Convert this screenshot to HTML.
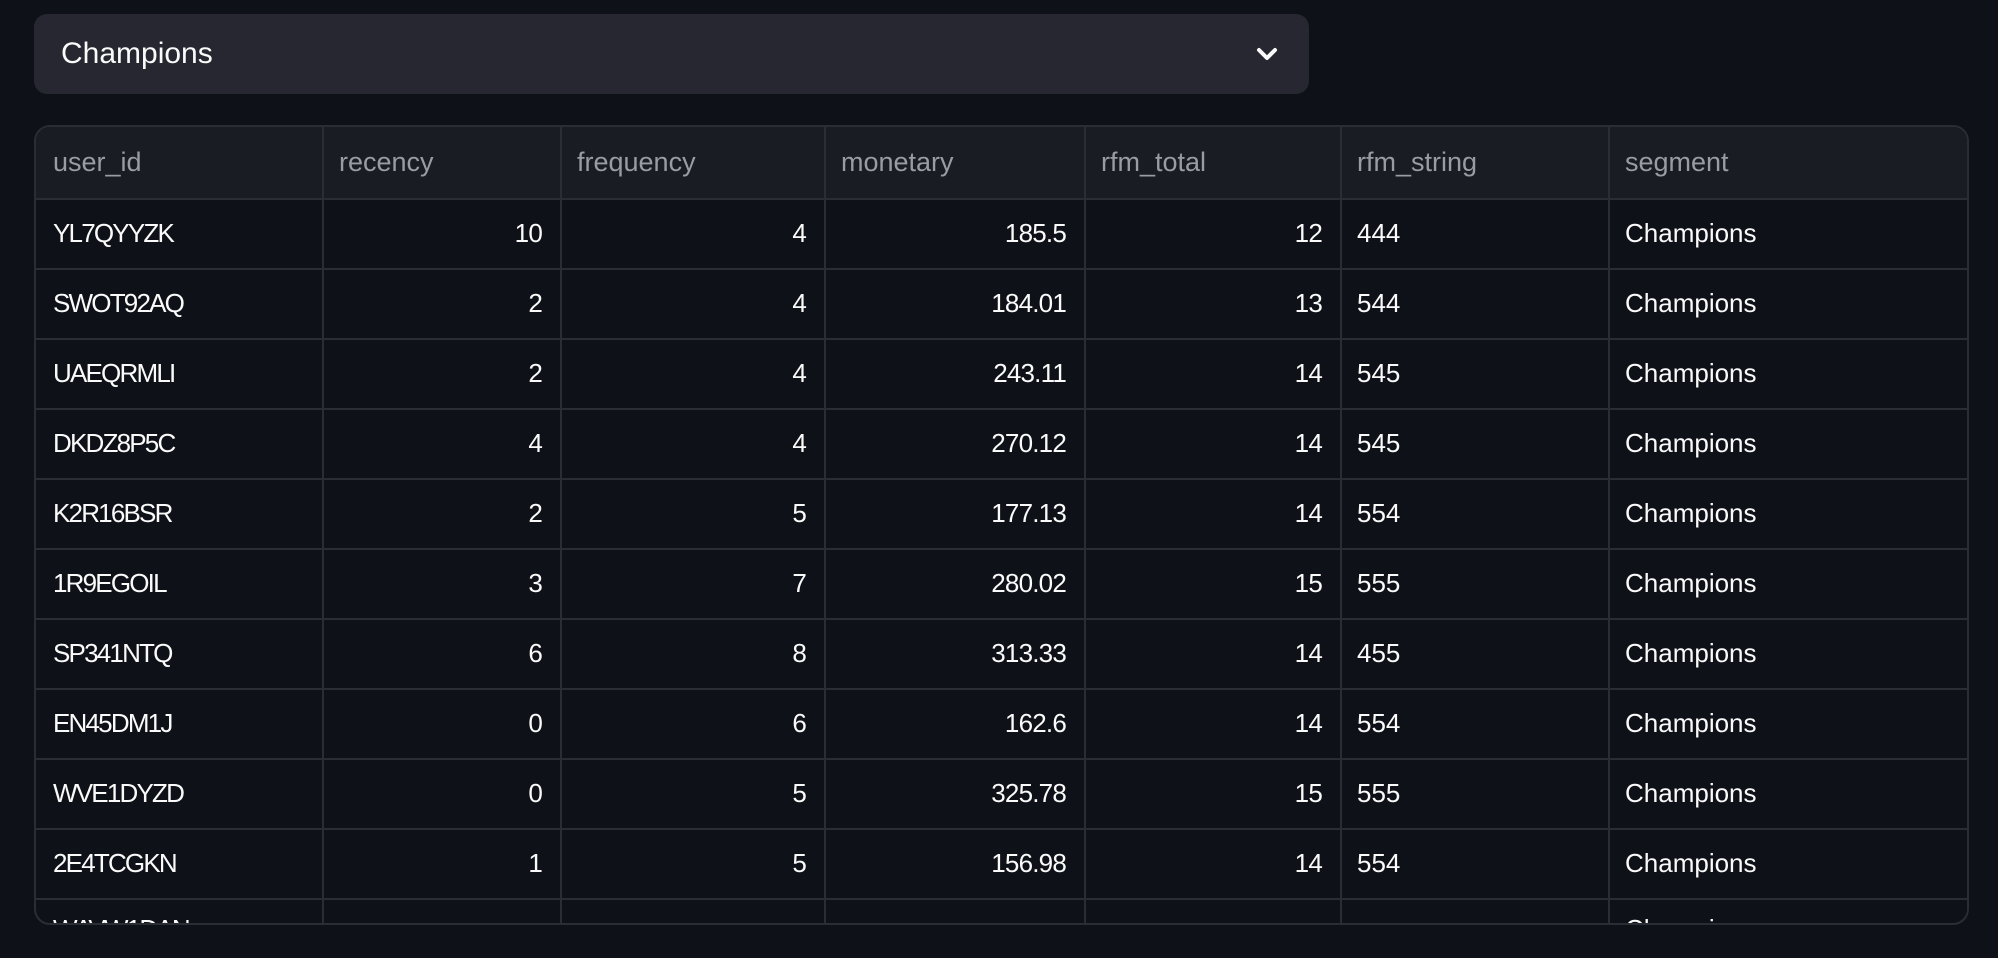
<!DOCTYPE html>
<html>
<head>
<meta charset="utf-8">
<style>
  html, body { margin:0; padding:0; }
  body {
    width:1998px; height:958px; overflow:hidden;
    background:#0e1117;
    font-family:"Liberation Sans", sans-serif;
    position:relative;
  }
  .select {
    position:absolute; left:34px; top:14px; width:1275px; height:80px;
    background:#262730; border-radius:13px;
  }
  .select .txt {
    position:absolute; left:27px; top:0; height:80px; line-height:80px;
    font-size:30px; color:#fafafa;
  }
  .select svg { position:absolute; left:0; top:0; }
  .table {
    position:absolute; left:34px; top:125px; width:1935px; height:800px;
    box-sizing:border-box; border:2px solid #2b2d35; border-radius:16px;
    overflow:hidden; background:#0e1117;
  }
  .hdr { position:absolute; left:0; top:0; width:1931px; height:71px; background:#1a1c23; }
  .hl { position:absolute; left:0; width:1931px; height:2px; background:#2b2d35; }
  .vl { position:absolute; top:0; width:2px; height:800px; background:#2b2d35; }
  .c {
    position:absolute; box-sizing:border-box; white-space:nowrap; overflow:hidden;
    font-size:26px; color:#fafafa; height:68px; line-height:67px;
  }
  .h { font-size:27px; color:#9a9ca4; height:71px; line-height:71px; top:0; }
  .r { text-align:right; padding-right:18px; letter-spacing:-0.8px; }
  .l { text-align:left; padding-left:15px; }
  .id { padding-left:17px; letter-spacing:-1.8px; }
  .h.id { letter-spacing:0; }
</style>
</head>
<body>
  <div class="select">
    <div class="txt">Champions</div>
    <svg width="1275" height="80" viewBox="0 0 1275 80">
      <polyline points="1225,36 1233,44 1241,36" fill="none" stroke="#fafafa" stroke-width="4" stroke-linecap="round" stroke-linejoin="round"/>
    </svg>
  </div>

  <div class="table">
    <div class="hdr"></div>
    <div class="hl" style="top:71px"></div>
    <div class="hl" style="top:141px"></div>
    <div class="hl" style="top:211px"></div>
    <div class="hl" style="top:281px"></div>
    <div class="hl" style="top:351px"></div>
    <div class="hl" style="top:421px"></div>
    <div class="hl" style="top:491px"></div>
    <div class="hl" style="top:561px"></div>
    <div class="hl" style="top:631px"></div>
    <div class="hl" style="top:701px"></div>
    <div class="hl" style="top:771px"></div>
    <div class="vl" style="left:286px"></div>
    <div class="vl" style="left:524px"></div>
    <div class="vl" style="left:788px"></div>
    <div class="vl" style="left:1048px"></div>
    <div class="vl" style="left:1304px"></div>
    <div class="vl" style="left:1572px"></div>

    <div class="c h id" style="left:0;width:286px">user_id</div>
    <div class="c h l" style="left:288px;width:236px">recency</div>
    <div class="c h l" style="left:526px;width:262px">frequency</div>
    <div class="c h l" style="left:790px;width:258px">monetary</div>
    <div class="c h l" style="left:1050px;width:254px">rfm_total</div>
    <div class="c h l" style="left:1306px;width:266px">rfm_string</div>
    <div class="c h l" style="left:1574px;width:357px">segment</div>

    <div class="c id" style="left:0;width:286px;top:73px">YL7QYYZK</div>
    <div class="c r" style="left:288px;width:236px;top:73px">10</div>
    <div class="c r" style="left:526px;width:262px;top:73px">4</div>
    <div class="c r" style="left:790px;width:258px;top:73px">185.5</div>
    <div class="c r" style="left:1050px;width:254px;top:73px">12</div>
    <div class="c l" style="left:1306px;width:266px;top:73px">444</div>
    <div class="c l" style="left:1574px;width:357px;top:73px">Champions</div>

    <div class="c id" style="left:0;width:286px;top:143px">SWOT92AQ</div>
    <div class="c r" style="left:288px;width:236px;top:143px">2</div>
    <div class="c r" style="left:526px;width:262px;top:143px">4</div>
    <div class="c r" style="left:790px;width:258px;top:143px">184.01</div>
    <div class="c r" style="left:1050px;width:254px;top:143px">13</div>
    <div class="c l" style="left:1306px;width:266px;top:143px">544</div>
    <div class="c l" style="left:1574px;width:357px;top:143px">Champions</div>

    <div class="c id" style="left:0;width:286px;top:213px">UAEQRMLI</div>
    <div class="c r" style="left:288px;width:236px;top:213px">2</div>
    <div class="c r" style="left:526px;width:262px;top:213px">4</div>
    <div class="c r" style="left:790px;width:258px;top:213px">243.11</div>
    <div class="c r" style="left:1050px;width:254px;top:213px">14</div>
    <div class="c l" style="left:1306px;width:266px;top:213px">545</div>
    <div class="c l" style="left:1574px;width:357px;top:213px">Champions</div>

    <div class="c id" style="left:0;width:286px;top:283px">DKDZ8P5C</div>
    <div class="c r" style="left:288px;width:236px;top:283px">4</div>
    <div class="c r" style="left:526px;width:262px;top:283px">4</div>
    <div class="c r" style="left:790px;width:258px;top:283px">270.12</div>
    <div class="c r" style="left:1050px;width:254px;top:283px">14</div>
    <div class="c l" style="left:1306px;width:266px;top:283px">545</div>
    <div class="c l" style="left:1574px;width:357px;top:283px">Champions</div>

    <div class="c id" style="left:0;width:286px;top:353px">K2R16BSR</div>
    <div class="c r" style="left:288px;width:236px;top:353px">2</div>
    <div class="c r" style="left:526px;width:262px;top:353px">5</div>
    <div class="c r" style="left:790px;width:258px;top:353px">177.13</div>
    <div class="c r" style="left:1050px;width:254px;top:353px">14</div>
    <div class="c l" style="left:1306px;width:266px;top:353px">554</div>
    <div class="c l" style="left:1574px;width:357px;top:353px">Champions</div>

    <div class="c id" style="left:0;width:286px;top:423px">1R9EGOIL</div>
    <div class="c r" style="left:288px;width:236px;top:423px">3</div>
    <div class="c r" style="left:526px;width:262px;top:423px">7</div>
    <div class="c r" style="left:790px;width:258px;top:423px">280.02</div>
    <div class="c r" style="left:1050px;width:254px;top:423px">15</div>
    <div class="c l" style="left:1306px;width:266px;top:423px">555</div>
    <div class="c l" style="left:1574px;width:357px;top:423px">Champions</div>

    <div class="c id" style="left:0;width:286px;top:493px">SP341NTQ</div>
    <div class="c r" style="left:288px;width:236px;top:493px">6</div>
    <div class="c r" style="left:526px;width:262px;top:493px">8</div>
    <div class="c r" style="left:790px;width:258px;top:493px">313.33</div>
    <div class="c r" style="left:1050px;width:254px;top:493px">14</div>
    <div class="c l" style="left:1306px;width:266px;top:493px">455</div>
    <div class="c l" style="left:1574px;width:357px;top:493px">Champions</div>

    <div class="c id" style="left:0;width:286px;top:563px">EN45DM1J</div>
    <div class="c r" style="left:288px;width:236px;top:563px">0</div>
    <div class="c r" style="left:526px;width:262px;top:563px">6</div>
    <div class="c r" style="left:790px;width:258px;top:563px">162.6</div>
    <div class="c r" style="left:1050px;width:254px;top:563px">14</div>
    <div class="c l" style="left:1306px;width:266px;top:563px">554</div>
    <div class="c l" style="left:1574px;width:357px;top:563px">Champions</div>

    <div class="c id" style="left:0;width:286px;top:633px">WVE1DYZD</div>
    <div class="c r" style="left:288px;width:236px;top:633px">0</div>
    <div class="c r" style="left:526px;width:262px;top:633px">5</div>
    <div class="c r" style="left:790px;width:258px;top:633px">325.78</div>
    <div class="c r" style="left:1050px;width:254px;top:633px">15</div>
    <div class="c l" style="left:1306px;width:266px;top:633px">555</div>
    <div class="c l" style="left:1574px;width:357px;top:633px">Champions</div>

    <div class="c id" style="left:0;width:286px;top:703px">2E4TCGKN</div>
    <div class="c r" style="left:288px;width:236px;top:703px">1</div>
    <div class="c r" style="left:526px;width:262px;top:703px">5</div>
    <div class="c r" style="left:790px;width:258px;top:703px">156.98</div>
    <div class="c r" style="left:1050px;width:254px;top:703px">14</div>
    <div class="c l" style="left:1306px;width:266px;top:703px">554</div>
    <div class="c l" style="left:1574px;width:357px;top:703px">Champions</div>

    <div class="c id" style="left:0;width:286px;top:769px">WAVW1DAN</div>
    <div class="c l" style="left:1574px;width:357px;top:769px">Champions</div>
  </div>
</body>
</html>
